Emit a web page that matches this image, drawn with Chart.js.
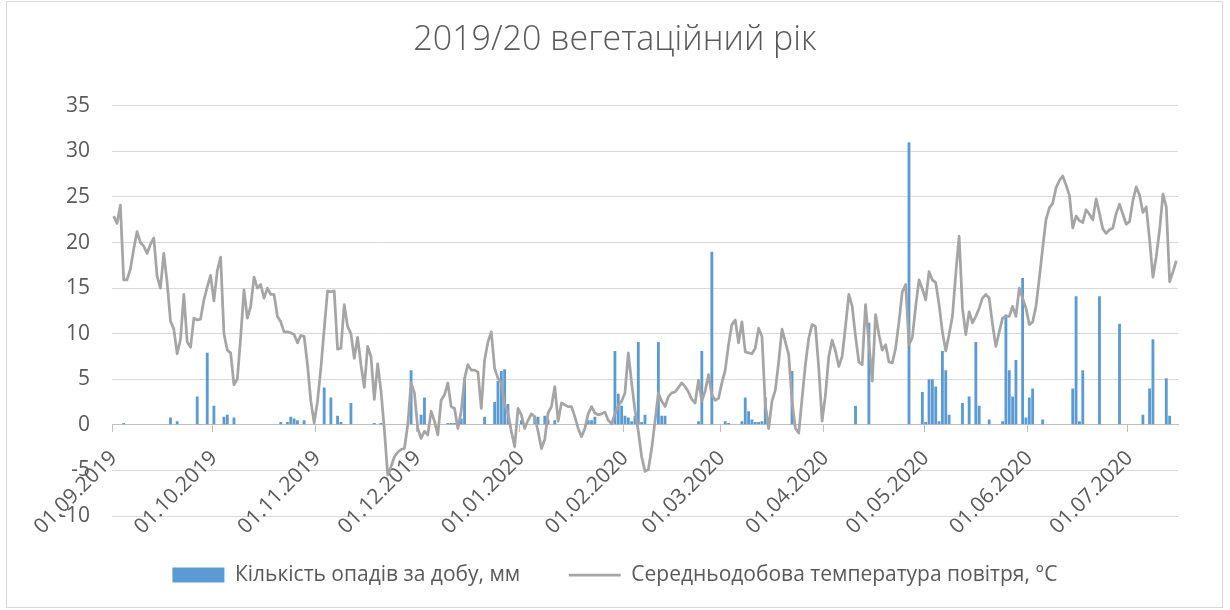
<!DOCTYPE html>
<html lang="uk">
<head>
<meta charset="utf-8">
<title>2019/20 вегетаційний рік</title>
<script src="https://cdn.jsdelivr.net/npm/chart.js@4.4.1/dist/chart.umd.min.js"></script>
<style>
    html, body { margin: 0; padding: 0; background: #ffffff; }
    #wrap { position: relative; width: 1230px; height: 610px; }
    #frame { position: absolute; left: 6px; top: 1px; width: 1217px; height: 607px; border: 1px solid #D9D9D9; box-sizing: border-box; pointer-events: none; }
</style>
</head>
<body>
<div id="wrap">
    <canvas id="chart" width="1230" height="610"></canvas>
    <div id="frame"></div>
</div>
<script>
// daily series, 01.09.2019 - 15.07.2020 (319 days), ten days per row
const precipitation = [
    0, 0, 0, 0.2, 0, 0, 0, 0, 0, 0,
    0, 0, 0, 0, 0, 0, 0, 0.8, 0, 0.4,
    0, 0, 0, 0, 0, 3.1, 0.1, 0, 7.9, 0,
    2.1, 0, 0, 0.9, 1.1, 0, 0.8, 0, 0, 0,
    0, 0, 0, 0, 0, 0, 0, 0, 0, 0,
    0.3, 0, 0.3, 0.9, 0.7, 0.5, 0, 0.5, 0, 0,
    0, 0, 0, 4.1, 0, 3.0, 0, 1.0, 0.3, 0.1,
    0, 2.4, 0, 0, 0, 0, 0, 0, 0.2, 0,
    0.2, 0, 0, 0, 0, 0, 0, 0, 0, 6.0,
    0, 0, 1.1, 3.0, 0, 0, 0, 0, 0, 0,
    0.2, 0.2, 0.2, 0.2, 0.7, 5.1, 0, 0, 0, 0,
    0, 0.9, 0.1, 0.1, 2.5, 4.8, 5.9, 6.1, 2.3, 0,
    0, 0, 0.5, 0, 0, 0, 0.9, 0.9, 0, 1.0,
    0.6, 0, 0.5, 0, 0, 0, 0, 0, 0, 0,
    0, 0, 0.5, 0.5, 0.9, 0, 0, 0, 0, 0,
    8.1, 3.4, 2.1, 1.0, 0.8, 0.4, 1.0, 9.1, 0.3, 1.1,
    0, 0, 0, 9.1, 1.0, 1.0, 0, 0, 0, 0,
    0, 0, 0, 0, 0, 0.4, 8.1, 0, 0, 19.0,
    0, 0, 0, 0.4, 0.2, 0, 0, 0, 0.4, 3.0,
    1.5, 0.6, 0.3, 0.3, 0.4, 3.0, 0, 0, 0, 0,
    0, 0, 0, 5.9, 0, 0, 0, 0, 0, 0,
    0, 0, 0, 0, 0, 0, 0, 0, 0, 0,
    0, 0, 2.1, 0, 0, 0, 11.2, 0, 0, 0,
    0, 0, 0, 0, 0, 0, 0, 0, 31.0, 0,
    0, 0, 3.6, 0.3, 5.0, 5.0, 4.2, 0.4, 8.1, 6.0,
    1.1, 0, 0, 0, 2.4, 0, 3.1, 0, 9.1, 2.1,
    0, 0, 0.6, 0, 0, 0, 0.4, 12.1, 6.0, 3.1,
    7.1, 0, 16.1, 0.8, 3.0, 4.0, 0, 0, 0.6, 0,
    0, 0, 0, 0, 0, 0, 0, 4.0, 14.1, 0.4,
    6.0, 0, 0, 0, 0, 14.1, 0.1, 0, 0, 0,
    0, 11.1, 0, 0, 0, 0, 0, 0, 1.1, 0,
    4.0, 9.4, 0, 0, 0, 5.1, 1.0, 0, 0
];

const temperature = [
    22.9, 22.1, 24.1, 15.9, 15.9, 17.1, 19.3, 21.2, 20.0, 19.6,
    18.8, 19.8, 20.5, 16.3, 15.0, 18.8, 15.6, 11.4, 10.5, 7.8,
    9.4, 14.3, 9.1, 8.5, 11.7, 11.5, 11.6, 13.7, 15.1, 16.4,
    13.6, 16.9, 18.4, 10.0, 8.2, 7.9, 4.4, 5.0, 9.6, 14.8,
    11.7, 13.0, 16.2, 15.0, 15.4, 13.9, 15.0, 14.3, 14.3, 11.9,
    11.3, 10.2, 10.2, 10.1, 9.9, 9.0, 9.8, 9.7, 6.6, 2.6,
    0.2, 2.6, 6.2, 10.5, 14.7, 14.6, 14.7, 8.3, 8.4, 13.2,
    10.8, 10.0, 7.3, 9.6, 6.6, 4.1, 8.6, 7.5, 2.8, 6.7,
    3.7, -0.5, -5.5, -4.6, -3.5, -3.0, -2.7, -2.6, 0.0, 4.6,
    3.5, -0.4, -1.5, -0.7, -1.1, 1.5, 0.4, -1.1, 2.7, 3.3,
    4.6, 2.0, 1.8, -0.4, 1.5, 5.1, 6.6, 6.0, 6.0, 5.8,
    1.8, 7.1, 9.1, 10.2, 6.2, 5.1, 4.6, 2.2, 1.3, -0.7,
    -2.4, 1.8, 1.1, -0.4, 0.5, 1.2, 0.9, -0.7, -2.6, -1.6,
    1.3, 2.0, 4.2, 0.4, 2.4, 2.2, 2.0, 2.0, 0.9, -0.4,
    -1.3, -0.4, 1.2, 2.0, 1.3, 1.1, 1.2, 1.4, 0.5, 0.1,
    1.2, 2.1, 2.6, 3.5, 7.9, 4.6, 1.6, -0.7, -3.5, -5.1,
    -4.9, -2.6, 0.4, 3.5, 2.6, 2.0, 3.1, 3.5, 3.6, 4.1,
    4.6, 4.2, 3.6, 2.8, 2.4, 4.9, 2.6, 3.7, 5.5, 3.3,
    2.7, 2.9, 4.6, 6.0, 8.8, 11.0, 11.5, 9.0, 11.3, 8.0,
    7.9, 7.8, 8.4, 10.6, 9.7, 2.2, -0.4, 2.6, 3.8, 6.9,
    10.5, 9.1, 7.7, 2.6, -0.4, -0.9, 2.9, 6.6, 9.5, 11.0,
    10.8, 6.2, 0.4, 3.3, 7.5, 9.3, 8.1, 6.4, 7.5, 10.8,
    14.3, 13.0, 9.7, 6.9, 6.6, 13.2, 9.0, 4.8, 12.1, 9.9,
    8.2, 8.8, 6.9, 6.8, 8.4, 11.3, 14.6, 15.4, 8.8, 9.6,
    13.0, 15.9, 14.9, 13.7, 16.8, 15.9, 15.6, 13.2, 10.2, 8.1,
    9.9, 11.9, 16.6, 20.7, 12.8, 9.9, 12.4, 11.2, 11.9, 12.8,
    13.9, 14.3, 13.9, 11.0, 8.6, 10.2, 11.7, 11.9, 11.9, 13.0,
    11.9, 15.0, 13.9, 12.8, 11.0, 11.3, 13.0, 16.1, 19.4, 22.5,
    23.8, 24.3, 26.0, 26.8, 27.3, 26.3, 25.2, 21.6, 22.9, 22.4,
    22.2, 23.6, 23.1, 22.5, 24.8, 23.2, 21.5, 21.0, 21.4, 21.6,
    23.2, 24.2, 23.1, 22.0, 22.3, 24.6, 26.1, 25.2, 23.3, 23.9,
    20.3, 16.2, 18.5, 21.4, 25.3, 23.9, 15.7, 16.8, 18.0
];

// labels shown under the axis (first day of each month)
const tickLabels = ['01.09.2019', '01.10.2019', '01.11.2019', '01.12.2019', '01.01.2020', '01.02.2020',
    '01.03.2020', '01.04.2020', '01.05.2020', '01.06.2020', '01.07.2020'];

// one category per day
const days = [];
for (let i = 0; i < temperature.length; i++) {
    let d = new Date(2019, 8, 1 + i);
    let dd = String(d.getDate()).padStart(2, '0');
    let mm = String(d.getMonth() + 1).padStart(2, '0');
    days.push(dd + '.' + mm + '.' + d.getFullYear());
}

Chart.defaults.font.family = "'Open Sans', sans-serif";
Chart.defaults.color = '#595959';

const tickFont = {family: "'Open Sans', sans-serif", size: 21};

new Chart(document.getElementById('chart'), {
    type: 'bar',
    data: {
        labels: days,
        datasets: [
            {
                type: 'bar',
                label: 'Кількість опадів за добу, мм',
                data: precipitation,
                backgroundColor: '#5B9BD5',
                barPercentage: 0.85,
                categoryPercentage: 1,
                pointStyle: 'rect',
                yAxisID: 'y',
                order: 2
            },
            {
                type: 'line',
                label: 'Середньодобова температура повітря, °C',
                data: temperature,
                borderColor: '#A5A5A5',
                backgroundColor: '#A5A5A5',
                borderWidth: 2.75,
                borderJoinStyle: 'round',
                pointRadius: 0,
                tension: 0,
                pointStyle: 'line',
                yAxisID: 'y',
                order: 1
            }
        ]
    },
    options: {
        responsive: false,
        animation: false,
        devicePixelRatio: 1,
        layout: {padding: {left: 0, right: 0, top: 0, bottom: 14.5}},
        plugins: {
            title: {
                display: true,
                text: '2019/20 вегетаційний рік',
                color: '#595959',
                font: {family: "'Open Sans', sans-serif", size: 34, weight: '300'},
                padding: {top: 20, bottom: 45}
            },
            legend: {
                position: 'bottom',
                labels: {
                    usePointStyle: true,
                    pointStyleWidth: 52,
                    boxHeight: 15,
                    padding: 48.5,
                    color: '#595959',
                    font: {family: "'Open Sans', sans-serif", size: 21},
                    sort: (a, b) => a.datasetIndex - b.datasetIndex
                }
            },
            tooltip: {enabled: false}
        },
        scales: {
            x: {
                position: {y: 0},
                offset: true,
                grid: {
                    offset: true,
                    drawOnChartArea: false,
                    drawTicks: true,
                    tickLength: 7,
                    lineWidth: 1,
                    color: ctx => (ctx.tick && ctx.tick.label) ? '#BFBFBF' : 'rgba(0,0,0,0)',
                    tickColor: ctx => (ctx.tick && ctx.tick.label) ? '#BFBFBF' : 'rgba(0,0,0,0)'
                },
                border: {display: true, color: '#BFBFBF', width: 1},
                ticks: {
                    autoSkip: false,
                    minRotation: 45,
                    maxRotation: 45,
                    padding: 14,
                    color: '#595959',
                    font: tickFont,
                    callback: function (value) {
                        let lbl = this.getLabelForValue(value);
                        return tickLabels.includes(lbl) ? lbl : '';
                    }
                }
            },
            y: {
                position: 'left',
                min: -10,
                max: 35,
                grid: {color: '#D9D9D9', lineWidth: 1, drawTicks: false},
                border: {display: false},
                ticks: {stepSize: 5, padding: 22, color: '#595959', font: tickFont},
                afterFit: scale => { scale.width = 112; }
            },
            yRight: {
                position: 'right',
                display: true,
                grid: {display: false},
                border: {display: false},
                ticks: {display: false},
                afterFit: scale => { scale.width = 52; }
            }
        }
    }
});
</script>
</body>
</html>
